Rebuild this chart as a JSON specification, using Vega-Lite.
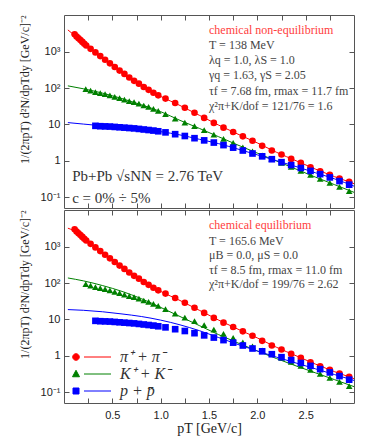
{
  "$schema": "https://vega.github.io/schema/vega-lite/v6.json",
  "padding": {"left": 18, "top": 14, "right": 5, "bottom": 5},
  "spacing": 0,
  "config": {
    "view": {"stroke": "#555", "strokeWidth": 1},
    "axis": {"domain": false, "grid": false, "tickColor": "#555", "tickSize": -5, "tickWidth": 1, "labelFont": "Liberation Sans", "labelFontSize": 11, "labelColor": "#222", "labelFlush": false, "labelOverlap": false, "titleFont": "Liberation Serif", "titleFontWeight": "normal", "titleColor": "#222"}
  },
  "datasets": {
    "spectra": [
      {"s":"pion","pT":0.11,"v":3020},{"s":"pion","pT":0.13,"v":2630},{"s":"pion","pT":0.15,"v":2344},{"s":"pion","pT":0.17,"v":2089},{"s":"pion","pT":0.19,"v":1862},{"s":"pion","pT":0.21,"v":1660},{"s":"pion","pT":0.23,"v":1479},{"s":"pion","pT":0.275,"v":1202},{"s":"pion","pT":0.325,"v":955},{"s":"pion","pT":0.375,"v":759},{"s":"pion","pT":0.425,"v":603},{"s":"pion","pT":0.475,"v":479},{"s":"pion","pT":0.525,"v":380},{"s":"pion","pT":0.575,"v":302},{"s":"pion","pT":0.625,"v":245},{"s":"pion","pT":0.675,"v":195},{"s":"pion","pT":0.725,"v":158},{"s":"pion","pT":0.775,"v":132},{"s":"pion","pT":0.825,"v":107},{"s":"pion","pT":0.875,"v":89.1},{"s":"pion","pT":0.925,"v":74.1},{"s":"pion","pT":0.975,"v":63.1},{"s":"pion","pT":1.05,"v":51.3},{"s":"pion","pT":1.15,"v":38.9},{"s":"pion","pT":1.25,"v":28.8},{"s":"pion","pT":1.35,"v":20.9},{"s":"pion","pT":1.45,"v":15.1},{"s":"pion","pT":1.55,"v":11.0},{"s":"pion","pT":1.65,"v":8.13},{"s":"pion","pT":1.75,"v":6.17},{"s":"pion","pT":1.85,"v":4.68},{"s":"pion","pT":1.95,"v":3.55},{"s":"pion","pT":2.05,"v":2.57},{"s":"pion","pT":2.15,"v":1.91},{"s":"pion","pT":2.25,"v":1.48},{"s":"pion","pT":2.35,"v":1.12},{"s":"pion","pT":2.45,"v":0.871},{"s":"pion","pT":2.55,"v":0.661},{"s":"pion","pT":2.65,"v":0.513},{"s":"pion","pT":2.75,"v":0.407},{"s":"pion","pT":2.85,"v":0.324},{"s":"pion","pT":2.95,"v":0.263},
      {"s":"kaon","pT":0.225,"v":93.3},{"s":"kaon","pT":0.275,"v":85.1},{"s":"kaon","pT":0.325,"v":77.6},{"s":"kaon","pT":0.375,"v":72.4},{"s":"kaon","pT":0.425,"v":67.6},{"s":"kaon","pT":0.475,"v":63.1},{"s":"kaon","pT":0.525,"v":57.5},{"s":"kaon","pT":0.575,"v":52.5},{"s":"kaon","pT":0.625,"v":47.9},{"s":"kaon","pT":0.675,"v":43.7},{"s":"kaon","pT":0.725,"v":40.7},{"s":"kaon","pT":0.775,"v":37.2},{"s":"kaon","pT":0.825,"v":33.1},{"s":"kaon","pT":0.875,"v":30.2},{"s":"kaon","pT":0.925,"v":26.9},{"s":"kaon","pT":0.975,"v":23.4},{"s":"kaon","pT":1.05,"v":19.1},{"s":"kaon","pT":1.15,"v":14.5},{"s":"kaon","pT":1.25,"v":11.2},{"s":"kaon","pT":1.35,"v":8.91},{"s":"kaon","pT":1.45,"v":6.92},{"s":"kaon","pT":1.55,"v":5.25},{"s":"kaon","pT":1.65,"v":3.98},{"s":"kaon","pT":1.75,"v":3.09},{"s":"kaon","pT":1.85,"v":2.34},{"s":"kaon","pT":1.95,"v":1.82},{"s":"kaon","pT":2.05,"v":1.41},{"s":"kaon","pT":2.15,"v":1.10},{"s":"kaon","pT":2.25,"v":0.871},{"s":"kaon","pT":2.35,"v":0.676},{"s":"kaon","pT":2.45,"v":0.525},{"s":"kaon","pT":2.55,"v":0.407},{"s":"kaon","pT":2.65,"v":0.316},{"s":"kaon","pT":2.75,"v":0.245},{"s":"kaon","pT":2.85,"v":0.191},{"s":"kaon","pT":2.95,"v":0.145},
      {"s":"proton","pT":0.325,"v":9.12},{"s":"proton","pT":0.375,"v":8.91},{"s":"proton","pT":0.425,"v":8.81},{"s":"proton","pT":0.475,"v":8.71},{"s":"proton","pT":0.525,"v":8.51},{"s":"proton","pT":0.575,"v":8.32},{"s":"proton","pT":0.625,"v":8.13},{"s":"proton","pT":0.675,"v":7.94},{"s":"proton","pT":0.725,"v":7.76},{"s":"proton","pT":0.775,"v":7.50},{"s":"proton","pT":0.825,"v":7.24},{"s":"proton","pT":0.875,"v":7.00},{"s":"proton","pT":0.925,"v":6.76},{"s":"proton","pT":0.975,"v":6.46},{"s":"proton","pT":1.05,"v":6.03},{"s":"proton","pT":1.15,"v":5.37},{"s":"proton","pT":1.25,"v":4.79},{"s":"proton","pT":1.35,"v":4.17},{"s":"proton","pT":1.45,"v":3.63},{"s":"proton","pT":1.55,"v":3.16},{"s":"proton","pT":1.65,"v":2.69},{"s":"proton","pT":1.75,"v":2.29},{"s":"proton","pT":1.85,"v":1.91},{"s":"proton","pT":1.95,"v":1.58},{"s":"proton","pT":2.05,"v":1.32},{"s":"proton","pT":2.15,"v":1.10},{"s":"proton","pT":2.25,"v":0.912},{"s":"proton","pT":2.35,"v":0.759},{"s":"proton","pT":2.45,"v":0.631},{"s":"proton","pT":2.55,"v":0.525},{"s":"proton","pT":2.65,"v":0.427},{"s":"proton","pT":2.75,"v":0.347},{"s":"proton","pT":2.85,"v":0.275},{"s":"proton","pT":2.95,"v":0.219}
    ],
    "model": [
      {"panel":"top","s":"pion","pT":0.04,"v":3981},{"panel":"top","s":"pion","pT":0.1,"v":2951},{"panel":"top","s":"pion","pT":0.2,"v":1660},{"panel":"top","s":"pion","pT":0.3,"v":1072},{"panel":"top","s":"pion","pT":0.4,"v":676},{"panel":"top","s":"pion","pT":0.5,"v":427},{"panel":"top","s":"pion","pT":0.6,"v":275},{"panel":"top","s":"pion","pT":0.7,"v":178},{"panel":"top","s":"pion","pT":0.8,"v":117},{"panel":"top","s":"pion","pT":0.9,"v":81.3},{"panel":"top","s":"pion","pT":1.0,"v":58.9},{"panel":"top","s":"pion","pT":1.2,"v":33.1},{"panel":"top","s":"pion","pT":1.4,"v":17.8},{"panel":"top","s":"pion","pT":1.6,"v":9.55},{"panel":"top","s":"pion","pT":1.8,"v":5.37},{"panel":"top","s":"pion","pT":2.0,"v":3.09},{"panel":"top","s":"pion","pT":2.2,"v":1.70},{"panel":"top","s":"pion","pT":2.4,"v":1.0},{"panel":"top","s":"pion","pT":2.6,"v":0.589},{"panel":"top","s":"pion","pT":2.8,"v":0.363},{"panel":"top","s":"pion","pT":3.0,"v":0.234},
      {"panel":"top","s":"kaon","pT":0.04,"v":115},{"panel":"top","s":"kaon","pT":0.2,"v":95.5},{"panel":"top","s":"kaon","pT":0.4,"v":72.4},{"panel":"top","s":"kaon","pT":0.6,"v":51.3},{"panel":"top","s":"kaon","pT":0.8,"v":34.7},{"panel":"top","s":"kaon","pT":1.0,"v":22.4},{"panel":"top","s":"kaon","pT":1.2,"v":12.9},{"panel":"top","s":"kaon","pT":1.4,"v":7.76},{"panel":"top","s":"kaon","pT":1.6,"v":4.57},{"panel":"top","s":"kaon","pT":1.8,"v":2.69},{"panel":"top","s":"kaon","pT":2.0,"v":1.62},{"panel":"top","s":"kaon","pT":2.2,"v":0.977},{"panel":"top","s":"kaon","pT":2.4,"v":0.589},{"panel":"top","s":"kaon","pT":2.6,"v":0.355},{"panel":"top","s":"kaon","pT":2.8,"v":0.219},{"panel":"top","s":"kaon","pT":3.0,"v":0.135},
      {"panel":"top","s":"proton","pT":0.04,"v":11.2},{"panel":"top","s":"proton","pT":0.2,"v":10.2},{"panel":"top","s":"proton","pT":0.4,"v":9.12},{"panel":"top","s":"proton","pT":0.6,"v":8.13},{"panel":"top","s":"proton","pT":0.8,"v":7.41},{"panel":"top","s":"proton","pT":1.0,"v":6.31},{"panel":"top","s":"proton","pT":1.2,"v":5.13},{"panel":"top","s":"proton","pT":1.4,"v":3.89},{"panel":"top","s":"proton","pT":1.6,"v":2.95},{"panel":"top","s":"proton","pT":1.8,"v":2.09},{"panel":"top","s":"proton","pT":2.0,"v":1.45},{"panel":"top","s":"proton","pT":2.2,"v":1.0},{"panel":"top","s":"proton","pT":2.4,"v":0.692},{"panel":"top","s":"proton","pT":2.6,"v":0.468},{"panel":"top","s":"proton","pT":2.8,"v":0.316},{"panel":"top","s":"proton","pT":3.0,"v":0.200},
      {"panel":"bottom","s":"pion","pT":0.04,"v":3236},{"panel":"bottom","s":"pion","pT":0.1,"v":2754},{"panel":"bottom","s":"pion","pT":0.2,"v":1622},{"panel":"bottom","s":"pion","pT":0.3,"v":1072},{"panel":"bottom","s":"pion","pT":0.4,"v":676},{"panel":"bottom","s":"pion","pT":0.5,"v":427},{"panel":"bottom","s":"pion","pT":0.6,"v":275},{"panel":"bottom","s":"pion","pT":0.7,"v":178},{"panel":"bottom","s":"pion","pT":0.8,"v":117},{"panel":"bottom","s":"pion","pT":0.9,"v":81.3},{"panel":"bottom","s":"pion","pT":1.0,"v":58.9},{"panel":"bottom","s":"pion","pT":1.2,"v":33.1},{"panel":"bottom","s":"pion","pT":1.4,"v":17.8},{"panel":"bottom","s":"pion","pT":1.6,"v":9.55},{"panel":"bottom","s":"pion","pT":1.8,"v":5.37},{"panel":"bottom","s":"pion","pT":2.0,"v":3.09},{"panel":"bottom","s":"pion","pT":2.2,"v":1.70},{"panel":"bottom","s":"pion","pT":2.4,"v":1.0},{"panel":"bottom","s":"pion","pT":2.6,"v":0.589},{"panel":"bottom","s":"pion","pT":2.8,"v":0.363},{"panel":"bottom","s":"pion","pT":3.0,"v":0.234},
      {"panel":"bottom","s":"kaon","pT":0.04,"v":138},{"panel":"bottom","s":"kaon","pT":0.2,"v":115},{"panel":"bottom","s":"kaon","pT":0.4,"v":85.1},{"panel":"bottom","s":"kaon","pT":0.6,"v":58.9},{"panel":"bottom","s":"kaon","pT":0.8,"v":37.2},{"panel":"bottom","s":"kaon","pT":1.0,"v":21.4},{"panel":"bottom","s":"kaon","pT":1.2,"v":12.0},{"panel":"bottom","s":"kaon","pT":1.4,"v":6.76},{"panel":"bottom","s":"kaon","pT":1.6,"v":3.80},{"panel":"bottom","s":"kaon","pT":1.8,"v":2.24},{"panel":"bottom","s":"kaon","pT":2.0,"v":1.35},{"panel":"bottom","s":"kaon","pT":2.2,"v":0.832},{"panel":"bottom","s":"kaon","pT":2.4,"v":0.525},{"panel":"bottom","s":"kaon","pT":2.6,"v":0.339},{"panel":"bottom","s":"kaon","pT":2.8,"v":0.219},{"panel":"bottom","s":"kaon","pT":3.0,"v":0.141},
      {"panel":"bottom","s":"proton","pT":0.04,"v":18.6},{"panel":"bottom","s":"proton","pT":0.2,"v":17.8},{"panel":"bottom","s":"proton","pT":0.4,"v":16.2},{"panel":"bottom","s":"proton","pT":0.6,"v":14.1},{"panel":"bottom","s":"proton","pT":0.8,"v":12.0},{"panel":"bottom","s":"proton","pT":1.0,"v":9.55},{"panel":"bottom","s":"proton","pT":1.2,"v":7.08},{"panel":"bottom","s":"proton","pT":1.4,"v":4.90},{"panel":"bottom","s":"proton","pT":1.6,"v":3.16},{"panel":"bottom","s":"proton","pT":1.8,"v":2.04},{"panel":"bottom","s":"proton","pT":2.0,"v":1.35},{"panel":"bottom","s":"proton","pT":2.2,"v":0.912},{"panel":"bottom","s":"proton","pT":2.4,"v":0.631},{"panel":"bottom","s":"proton","pT":2.6,"v":0.437},{"panel":"bottom","s":"proton","pT":2.8,"v":0.302},{"panel":"bottom","s":"proton","pT":3.0,"v":0.209}
    ]
  },
  "vconcat": [
    {
      "width": 290, "height": 193,
      "resolve": {"axis": {"x": "independent", "y": "independent"}},
      "layer": [
        {
          "data": {"name": "model"},
          "transform": [{"filter": "datum.panel == 'top'"}],
          "mark": {"type": "line", "strokeWidth": 1, "interpolate": "monotone"},
          "encoding": {
            "x": {"field": "pT", "type": "quantitative", "scale": {"domain": [0, 3], "nice": false}, "axis": {"orient": "bottom", "values": [0.25,0.5,0.75,1,1.25,1.5,1.75,2,2.25,2.5,2.75], "labels": false, "title": null}},
            "y": {"field": "v", "type": "quantitative", "scale": {"type": "log", "domain": [0.05, 10240], "nice": false}, "axis": {"orient": "left", "values": [0.1,1,10,100,1000], "labelPadding": 9, "labelExpr": "datum.value == 1000 ? '10³' : datum.value == 100 ? '10²' : datum.value == 10 ? '10' : datum.value == 1 ? '1' : '10⁻¹'", "title": null}},
            "color": {"field": "s", "type": "nominal", "scale": {"domain": ["pion","kaon","proton"], "range": ["#ff0000","#008000","#0000ff"]}, "legend": null}
          }
        },
        {
          "data": {"name": "spectra"},
          "mark": {"type": "point", "filled": true, "size": 44, "opacity": 1},
          "encoding": {
            "x": {"field": "pT", "type": "quantitative", "axis": {"orient": "top", "values": [0.25,0.5,0.75,1,1.25,1.5,1.75,2,2.25,2.5,2.75], "labels": false, "title": null}},
            "y": {"field": "v", "type": "quantitative", "axis": {"orient": "right", "values": [0.1,1,10,100,1000], "labels": false, "title": null}},
            "color": {"field": "s", "type": "nominal", "legend": null},
            "shape": {"field": "s", "type": "nominal", "scale": {"domain": ["pion","kaon","proton"], "range": ["circle","triangle-up","square"]}, "legend": null}
          }
        },
        {
          "data": {"values": [{}]},
          "mark": {"type": "text", "text": "1/(2πpT) d²N/dpTdy [GeV/c]⁻²", "angle": 270, "align": "right", "baseline": "middle", "font": "Liberation Serif", "fontSize": 12, "color": "#222"},
          "encoding": {"x": {"datum": -0.4, "type": "quantitative", "axis": null}, "y": {"datum": 10000, "type": "quantitative", "axis": null}}
        },
        {
          "data": {"values": [{}]},
          "mark": {"type": "text", "text": "chemical non-equilibrium", "align": "left", "baseline": "middle", "font": "Liberation Serif", "fontSize": 12, "color": "#ff4040"},
          "encoding": {"x": {"datum": 1.5, "type": "quantitative", "axis": null}, "y": {"datum": 3963, "type": "quantitative", "axis": null}}
        },
        {
          "data": {"values": [{}]},
          "mark": {"type": "text", "text": ["T = 138 MeV", "λq = 1.0, λS = 1.0", "γq = 1.63, γS = 2.05", "τf = 7.68 fm, rmax = 11.7 fm", "χ²π+K/dof = 121/76 = 1.6"], "lineHeight": 15.2, "align": "left", "baseline": "top", "font": "Liberation Serif", "fontSize": 12, "color": "#444"},
          "encoding": {"x": {"datum": 1.5, "type": "quantitative", "axis": null}, "y": {"datum": 2100, "type": "quantitative", "axis": null}}
        },
        {
          "data": {"values": [{}]},
          "mark": {"type": "text", "text": ["Pb+Pb √sNN = 2.76 TeV", "c = 0% ÷ 5%"], "lineHeight": 21.6, "align": "left", "baseline": "top", "font": "Liberation Serif", "fontSize": 15, "color": "#333"},
          "encoding": {"x": {"datum": 0.085, "type": "quantitative", "axis": null}, "y": {"datum": 0.58, "type": "quantitative", "axis": null}}
        }
      ]
    },
    {
      "width": 290, "height": 193,
      "resolve": {"axis": {"x": "independent", "y": "independent"}, "scale": {"shape": "independent"}},
      "layer": [
        {
          "data": {"name": "model"},
          "transform": [{"filter": "datum.panel == 'bottom'"}],
          "mark": {"type": "line", "strokeWidth": 1, "interpolate": "monotone"},
          "encoding": {
            "x": {"field": "pT", "type": "quantitative", "scale": {"domain": [0, 3], "nice": false}, "axis": {"orient": "bottom", "values": [0.25,0.5,0.75,1,1.25,1.5,1.75,2,2.25,2.5,2.75], "labelPadding": 11, "labelExpr": "datum.value % 0.5 == 0 ? format(datum.value, '.1f') : ''", "title": "pT [GeV/c]", "titleFontSize": 14, "titlePadding": 1}},
            "y": {"field": "v", "type": "quantitative", "scale": {"type": "log", "domain": [0.05, 10240], "nice": false}, "axis": {"orient": "left", "values": [0.1,1,10,100,1000], "labelPadding": 9, "labelExpr": "datum.value == 1000 ? '10³' : datum.value == 100 ? '10²' : datum.value == 10 ? '10' : datum.value == 1 ? '1' : '10⁻¹'", "title": null}},
            "color": {"field": "s", "type": "nominal", "scale": {"domain": ["pion","kaon","proton"], "range": ["#ff0000","#008000","#0000ff"]}, "legend": null}
          }
        },
        {
          "data": {"name": "spectra"},
          "mark": {"type": "point", "filled": true, "size": 44, "opacity": 1},
          "encoding": {
            "x": {"field": "pT", "type": "quantitative", "axis": {"orient": "top", "values": [0.25,0.5,0.75,1,1.25,1.5,1.75,2,2.25,2.5,2.75], "labels": false, "title": null}},
            "y": {"field": "v", "type": "quantitative", "axis": {"orient": "right", "values": [0.1,1,10,100,1000], "labels": false, "title": null}},
            "color": {"field": "s", "type": "nominal", "legend": null},
            "shape": {"field": "s", "type": "nominal", "scale": {"domain": ["pion","kaon","proton"], "range": ["circle","triangle-up","square"]}, "legend": null}
          }
        },
        {
          "data": {"name": "spectra"},
          "transform": [{"filter": "false"}],
          "mark": {"type": "point", "filled": true, "strokeWidth": 1, "opacity": 1, "fill": {"expr": "datum.value == 'pion' ? '#ff0000' : datum.value == 'kaon' ? '#008000' : '#0000ff'"}, "stroke": {"expr": "datum.value == 'pion' ? '#ff0000' : datum.value == 'kaon' ? '#008000' : '#0000ff'"}},
          "encoding": {
            "x": {"field": "pT", "type": "quantitative", "axis": null},
            "y": {"field": "v", "type": "quantitative", "axis": null},
            "shape": {"field": "s", "type": "nominal", "scale": {"domain": ["pion","kaon","proton"], "range": ["M -0.66 0 A 0.66 0.66 0 1 0 0.66 0 A 0.66 0.66 0 1 0 -0.66 0 Z M 1.6 0 L 7 0", "M 0 -0.75 L 0.7 0.55 L -0.7 0.55 Z M 1.6 0 L 7 0", "M -0.6 -0.6 L 0.6 -0.6 L 0.6 0.6 L -0.6 0.6 Z M 1.6 0 L 7 0"]}, "legend": {"orient": "bottom-left", "offset": 4, "padding": 0, "title": null, "symbolSize": 100, "labelOffset": 36, "labelFont": "Liberation Serif", "labelFontSize": 16, "labelFontStyle": "italic", "labelColor": "#333", "rowPadding": 1, "symbolStrokeWidth": 1, "symbolOpacity": 1, "labelExpr": "datum.value == 'pion' ? 'π⁺  +  π⁻' : datum.value == 'kaon' ? 'K⁺  +  K⁻' : 'p  +  p̄'"}}
          }
        },
        {
          "data": {"values": [{}]},
          "mark": {"type": "text", "text": "1/(2πpT) d²N/dpTdy [GeV/c]⁻²", "angle": 270, "align": "right", "baseline": "middle", "font": "Liberation Serif", "fontSize": 12, "color": "#222"},
          "encoding": {"x": {"datum": -0.4, "type": "quantitative", "axis": null}, "y": {"datum": 10000, "type": "quantitative", "axis": null}}
        },
        {
          "data": {"values": [{}]},
          "mark": {"type": "text", "text": "chemical equilibrium", "align": "left", "baseline": "middle", "font": "Liberation Serif", "fontSize": 12, "color": "#ff4040"},
          "encoding": {"x": {"datum": 1.5, "type": "quantitative", "axis": null}, "y": {"datum": 3864, "type": "quantitative", "axis": null}}
        },
        {
          "data": {"values": [{}]},
          "mark": {"type": "text", "text": ["T = 165.6 MeV", "μB = 0.0, μS = 0.0", "τf = 8.5 fm, rmax = 11.0 fm", "χ²π+K/dof = 199/76 = 2.62"], "lineHeight": 14.5, "align": "left", "baseline": "top", "font": "Liberation Serif", "fontSize": 12, "color": "#444"},
          "encoding": {"x": {"datum": 1.5, "type": "quantitative", "axis": null}, "y": {"datum": 1972, "type": "quantitative", "axis": null}}
        }
      ]
    }
  ]
}
